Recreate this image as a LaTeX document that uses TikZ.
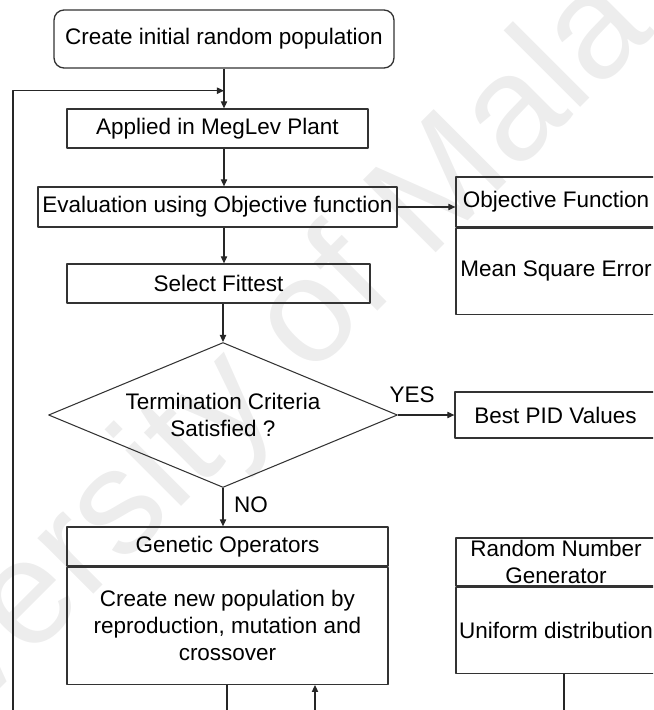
\documentclass[tikz,border=0pt]{standalone}
\usepackage{fontspec}
\setmainfont{Liberation Sans}
\usetikzlibrary{shapes.geometric,arrows.meta}

\begin{document}
\begin{tikzpicture}[x=0.02cm,y=-0.02cm,line join=round,
  txt/.style={font=\fontsize{12.8}{15.4}\selectfont,align=center,inner sep=0pt},
  box/.style={txt,draw=black!80,line width=0.75pt},
  con/.style={draw=black!85,line width=0.6pt},
  arr/.style={con,-{Triangle[length=4pt,width=3.6pt]}}]
\useasboundingbox (0,0) rectangle (653,710);
\clip (0,0) rectangle (653,710);
\node[rotate=45,text=black!7,font=\fontsize{85}{85}\selectfont] (wmark) at (265,369) {University of Malaya};
\node[box,rounded corners=0.2cm,minimum width=6.8cm,minimum height=1.16cm] (start) at (224,39) {Create initial random population};
\node[box,minimum width=6.02cm,minimum height=0.78cm] (applied) at (217.5,128.5) {Applied in MegLev Plant};
\node[box,minimum width=7.18cm,minimum height=0.8cm] (eval) at (217.5,207) {Evaluation using Objective function};
\node[box,minimum width=6.06cm,minimum height=0.78cm] (select) at (218.5,283.5) {Select Fittest};
\node[box,diamond,shape aspect=2.4,line width=0.6pt,minimum width=6.98cm,minimum height=2.9cm] (term) at (223,415) {Termination Criteria\\Satisfied ?};
\node[box,minimum width=4cm,minimum height=1cm] (objfun) at (556,202) {Objective Function};
\node[box,anchor=north,minimum width=4cm,minimum height=1.72cm] (objbody) at (objfun.south) {Mean Square Error};
\node[box,minimum width=4.02cm,minimum height=0.92cm] (best) at (555.5,415) {Best PID Values};
\node[box,minimum width=6.42cm,minimum height=0.78cm] (genop) at (227.5,546.5) {Genetic Operators};
\node[box,anchor=north,minimum width=6.42cm,minimum height=2.34cm] (genbody) at (genop.south) {Create new population by\\reproduction, mutation and\\crossover};
\node[box,minimum width=4cm,minimum height=0.96cm] (rng) at (556,562) {Random Number\\Generator};
\node[box,anchor=north,minimum width=4cm,minimum height=1.72cm] (rngbody) at (rng.south) {Uniform distribution};
\node[txt] (yes) at (412,395) {YES};
\node[txt] (no) at (251,505) {NO};
\coordinate (looptop) at (13,90.7);
\coordinate (loopbot) at (13,720);
\coordinate (outA) at (227,720);
\coordinate (inB) at (315,720);
\coordinate (outC) at (564,720);
\draw[arr] (start.south) -- (start.south |- applied.north);
\draw[arr] (loopbot) -- (looptop) -- (looptop -| start.south);
\draw[arr] (applied.south -| start.south) -- (eval.north -| start.south);
\draw[arr] (eval.south -| start.south) -- (select.north -| start.south);
\draw[arr] (select.south -| term.north) -- (term.north);
\draw[arr] (eval.east) -- (eval.east -| objfun.west);
\draw[arr] (term.east) -- (best.west);
\draw[arr] (term.south) -- (term.south |- genop.north);
\draw[con] (genbody.south -| outA) -- (outA);
\draw[arr] (inB) -- (inB |- genbody.south);
\draw[con] (rngbody.south -| outC) -- (outC);
\end{tikzpicture}
\end{document}
